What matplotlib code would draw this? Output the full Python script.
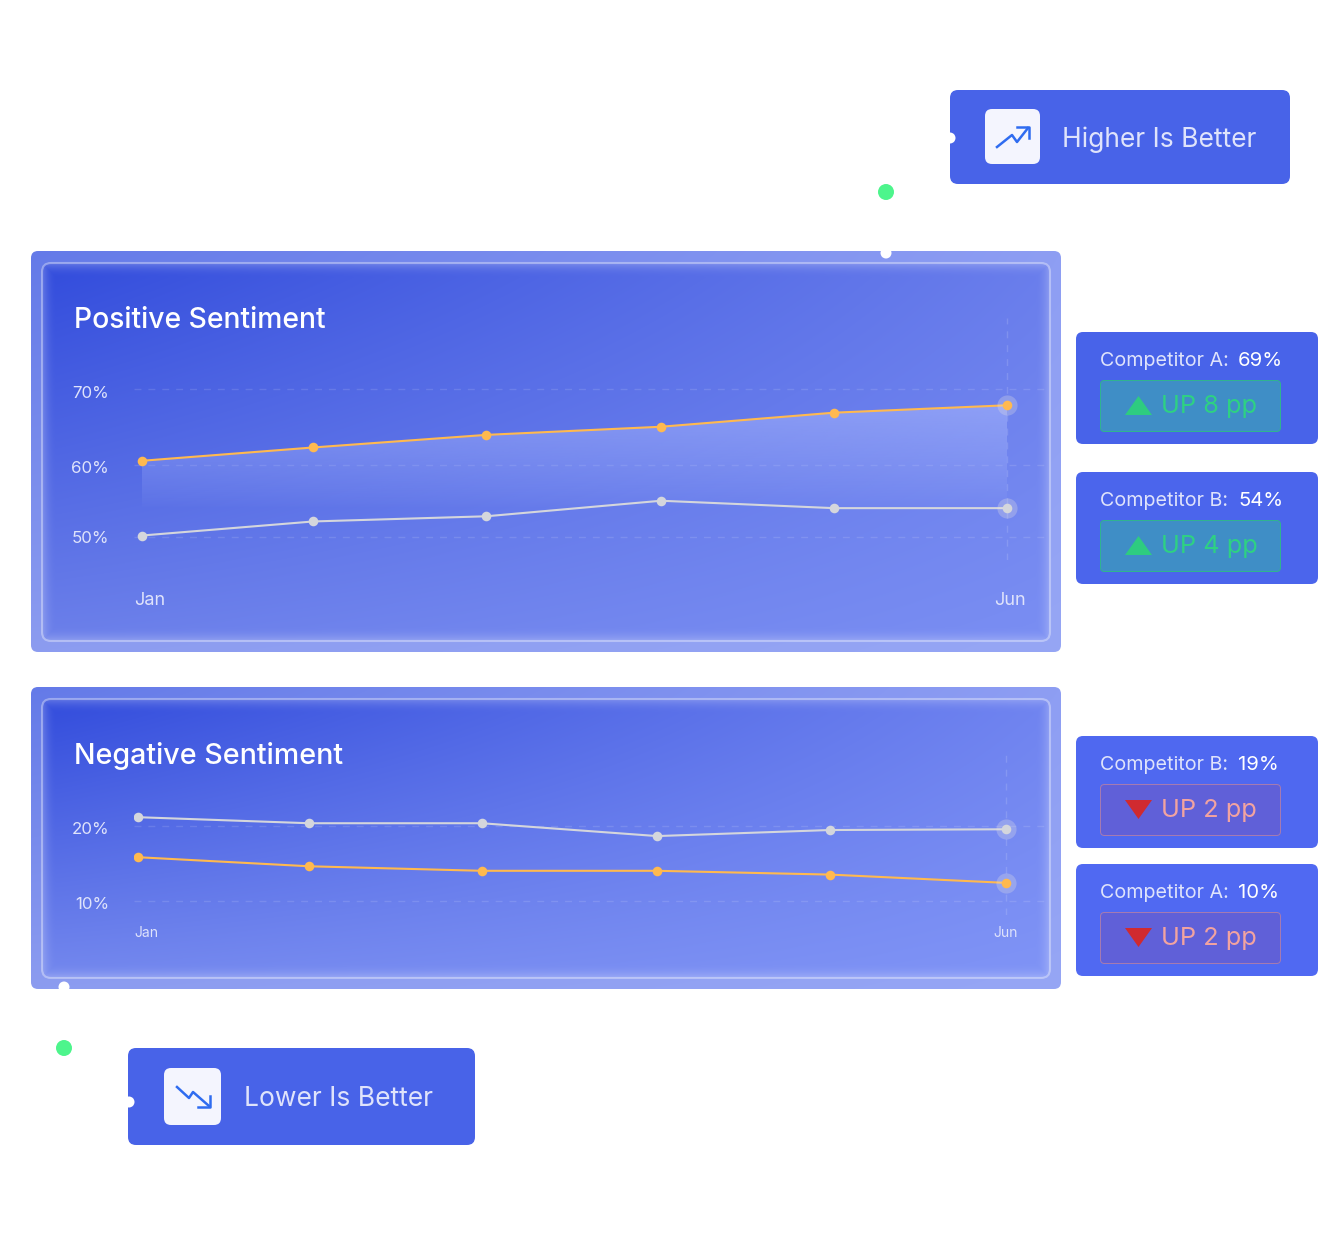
import numpy as np
import matplotlib
matplotlib.use('Agg')
import matplotlib.pyplot as plt
from matplotlib.patches import FancyBboxPatch, Circle, Polygon
from matplotlib.transforms import ScaledTranslation

plt.rcParams['font.family'] = ['Inter', 'DejaVu Sans']

W, H = 1318, 1260

# data
months = ['Jan', 'Feb', 'Mar', 'Apr', 'May', 'Jun']
pos_steps = [0, 0.99, 1.99, 3, 4, 5]
pos_orange = [60.3, 62.1, 63.8, 64.9, 66.8, 67.8]
pos_grey = [50.2, 52.1, 52.8, 54.9, 53.9, 53.9]
pos_ticks = [70, 59.7, 50]
pos_ticklabels = ['70%', '60%', '50%']

neg_steps = [0, 0.985, 1.98, 2.99, 3.985, 5]
neg_grey = [21.1, 20.3, 20.3, 18.6, 19.4, 19.5]
neg_orange = [15.8, 14.6, 14.0, 14.0, 13.5, 12.4]
neg_ticks = [20, 10]
neg_ticklabels = ['20%', '10%']

stat_names = ['Competitor A:', 'Competitor B:', 'Competitor B:', 'Competitor A:']
stat_values = ['69%', '54%', '19%', '10%']
stat_changes = ['UP 8 pp', 'UP 4 pp', 'UP 2 pp', 'UP 2 pp']

ORANGE = '#ffb94f'
GREY = '#d4d6dc'
TEXT_SOFT = '#dfe3fb'

fig = plt.figure(figsize=(W / 100, H / 100), dpi=100, facecolor='white')
page = fig.add_axes([0, 0, 1, 1])
page.set_axis_off()


def round_box(x0, y0, x1, y1, r, **kw):
    return FancyBboxPatch((x0 + r, y0 + r), x1 - x0 - 2 * r, y1 - y0 - 2 * r,
                          boxstyle='round,pad=%g,rounding_size=%g' % (r, r), **kw)


def panel(x0, y0, x1, y1, r, tl, tr, bl, br, glow=0, z=1):
    # bilinear corner gradient, lighter towards the edge when glow is set
    w, h = int(x1 - x0), int(y1 - y0)
    u, v = np.meshgrid(np.linspace(0, 1, w), np.linspace(0, 1, h))
    img = np.zeros((h, w, 3))
    for i in range(3):
        img[..., i] = (tl[i] * (1 - u) * (1 - v) + tr[i] * u * (1 - v)
                       + bl[i] * (1 - u) * v + br[i] * u * v) / 255
    if glow:
        xx, yy = np.meshgrid(np.arange(w), np.arange(h))
        d = np.minimum.reduce([xx, w - 1 - xx, yy, h - 1 - yy])
        a = np.clip(1 - d / glow, 0, 1) ** 2 * 0.22
        img = img * (1 - a[..., None]) + a[..., None]
    im = page.imshow(img, extent=(x0, x1, y1, y0), aspect='auto', zorder=z)
    clip = round_box(x0, y0, x1, y1, r, transform=page.transData, fc='none', ec='none')
    page.add_patch(clip)
    im.set_clip_path(clip)


def sentiment_panel(y0, y1, tl, tr, bl, br):
    panel(31, y0, 1061, y1, 7, (100, 122, 232), (142, 158, 243), (140, 156, 240), (150, 166, 245))
    panel(42, y0 + 12, 1050, y1 - 11, 9, tl, tr, bl, br, glow=14, z=2)
    page.add_patch(round_box(42, y0 + 12, 1050, y1 - 11, 9, fc='none', ec='#ffffff', alpha=0.35, lw=1.5, zorder=3))


def chart_axes(px_x0, px_x1, px_y0, px_y1, x_first, x_last, y_hi, px_hi, y_lo, px_lo):
    # axes sized in pixels, limits worked out so data lands where the picture has it
    ax = fig.add_axes([px_x0 / W, 1 - px_y1 / H, (px_x1 - px_x0) / W, (px_y1 - px_y0) / H])
    ax.patch.set_alpha(0)
    sx = (x_last - x_first) / 5
    ax.set_xlim((px_x0 - x_first) / sx, (px_x1 - x_first) / sx)
    sy = (px_lo - px_hi) / (y_hi - y_lo)
    ax.set_ylim(y_lo - (px_y1 - px_lo) / sy, y_hi + (px_hi - px_y0) / sy)
    for s in ax.spines.values():
        s.set_visible(False)
    return ax


def shift(label, dx, dy):
    label.set_transform(label.get_transform() + ScaledTranslation(dx / 100, -dy / 100, fig.dpi_scale_trans))


def style_axes(ax, ticks, ticklabels, x_fs, y_fs, x_pad, y_dy, x_dx):
    ax.set_yticks(ticks, ticklabels)
    ax.set_xticks([0, 5], ['Jan', 'Jun'])
    ax.tick_params(length=0)
    ax.tick_params(axis='y', labelsize=y_fs, labelcolor=TEXT_SOFT, pad=18)
    ax.tick_params(axis='x', labelsize=x_fs, labelcolor=TEXT_SOFT, pad=x_pad)
    ax.grid(axis='y', color='white', alpha=0.12, lw=1, ls=(0, (5, 5)))
    ax.set_axisbelow(True)
    ax.axvline(5, color='white', alpha=0.14, lw=1, ls=(0, (5, 5)), zorder=1)
    for lab, dy in zip(ax.get_yticklabels(), y_dy):
        shift(lab, 0, dy)
    for lab, dx in zip(ax.get_xticklabels(), x_dx):
        shift(lab, dx, 0)


def draw_series(ax, x, y, color):
    ax.plot(x, y, color=color, lw=1.5, zorder=4, solid_capstyle='round')
    ax.scatter(x, y, s=48, color=color, zorder=5, lw=0)
    ax.scatter(x[-1:], y[-1:], s=210, color='#e8e4e4', alpha=0.28, zorder=4, lw=0)


def stat_card(y0, color, name, value, change, up):
    x0, x1 = 1076, 1318
    page.add_patch(round_box(x0, y0, x1, y0 + 112, 7, fc=color, ec='none', zorder=2))
    page.text(1100, y0 + 29, name, color=TEXT_SOFT, fontsize=14.2, va='center', zorder=5)
    page.text(1238, y0 + 29, value, color='white', fontsize=14.6, va='center', zorder=5)
    if up:
        fc, ec, tc, tri = '#3f8ec6', '#30b58e', '#2ed183', '#2ecc80'
        pts = [(1125, y0 + 83), (1152, y0 + 83), (1138.5, y0 + 64)]
    else:
        fc, ec, tc, tri = '#6060d8', '#a87bb0', '#f2a3a0', '#d02a30'
        pts = [(1125, y0 + 64), (1152, y0 + 64), (1138.5, y0 + 83)]
    page.add_patch(round_box(1100.5, y0 + 48.5, 1280.5, y0 + 99.5, 4, fc=fc, ec=ec, lw=0.7, zorder=3))
    page.add_patch(Polygon(pts, closed=True, fc=tri, ec='none', zorder=4))
    page.text(1161, y0 + 75, change, color=tc, fontsize=18.2, va='center', zorder=5)


def flag(x0, y0, x1, y1, ibox, label, tx, trend, head):
    page.add_patch(round_box(x0, y0, x1, y1, 8, fc='#4863e8', ec='none', zorder=2))
    page.add_patch(round_box(*ibox, 7, fc='#f4f5fe', ec='none', zorder=3))
    page.plot(*zip(*trend), color='#2f6cf0', lw=1.8, zorder=4)
    page.plot(*zip(*head), color='#2f6cf0', lw=1.8, zorder=4)
    page.text(tx, (y0 + y1) / 2 + 3, label, color=TEXT_SOFT, fontsize=19, va='center', zorder=5)


# panels
sentiment_panel(251, 652, (50, 76, 220), (106, 126, 236), (108, 128, 234), (122, 142, 243))
sentiment_panel(687, 989, (50, 76, 220), (112, 132, 240), (116, 136, 238), (128, 148, 246))
page.text(74, 320, 'Positive Sentiment', color='white', fontsize=20.4, fontweight='medium', va='center', zorder=6)
page.text(74, 756, 'Negative Sentiment', color='white', fontsize=20.6, fontweight='medium', va='center', zorder=6)

# positive chart
ax1 = chart_axes(134, 1046, 318, 560, 142, 1007, 70, 389, 50, 537)
style_axes(ax1, pos_ticks, pos_ticklabels, 13, 12.2, 23, [3, 2, 0], [8, 3])
area = ax1.fill_between(pos_steps, pos_orange, 53.8, color='none', lw=0)
xa, xb = ax1.get_xlim()
ya, yb = ax1.get_ylim()
fade = np.zeros((100, 2, 4))
fade[..., :3] = np.array([165, 180, 252]) / 255
fade[..., 3] = np.linspace(0.52, 0, 100)[:, None] ** 0.8
im = ax1.imshow(fade, extent=(xa, xb, 53.8, 68), aspect='auto', zorder=2)
ax1.set_xlim(xa, xb)
ax1.set_ylim(ya, yb)
im.set_clip_path(area.get_paths()[0], transform=ax1.transData)
draw_series(ax1, pos_steps, pos_grey, GREY)
draw_series(ax1, pos_steps, pos_orange, ORANGE)

# negative chart
ax2 = chart_axes(134, 1046, 753, 915, 138, 1006, 20, 825.5, 10, 901)
style_axes(ax2, neg_ticks, neg_ticklabels, 10, 12.2, 8, [3, 2], [8, 0])
draw_series(ax2, neg_steps, neg_grey, GREY)
draw_series(ax2, neg_steps, neg_orange, ORANGE)

# side cards
stat_card(332, '#4863e9', stat_names[0], stat_values[0], stat_changes[0], True)
stat_card(472, '#4b65ec', stat_names[1], stat_values[1], stat_changes[1], True)
stat_card(736, '#4f68f0', stat_names[2], stat_values[2], stat_changes[2], False)
stat_card(864, '#5069f2', stat_names[3], stat_values[3], stat_changes[3], False)

# higher / lower flags
flag(950, 90, 1290, 184, (985, 109, 1040, 164), 'Higher Is Better', 1062,
     [(997, 147), (1012, 135), (1017, 142), (1028, 128)], [(1017, 127), (1029, 127), (1029, 138)])
flag(128, 1048, 475, 1145, (164, 1068, 221, 1125), 'Lower Is Better', 244,
     [(177, 1087), (189, 1098), (193, 1092), (209, 1106)], [(198, 1107), (209.5, 1107), (209.5, 1096)])

# connector dots
for cx, cy in [(950, 138), (886, 253), (64, 987), (129, 1102)]:
    page.add_patch(Circle((cx, cy), 5.5, fc='white', ec='none', zorder=8))
for cx, cy in [(886, 192), (64, 1048)]:
    page.add_patch(Circle((cx, cy), 8, fc='#4df58c', ec='none', zorder=8))

page.set_xlim(0, W)
page.set_ylim(H, 0)
fig.savefig('out.png', dpi=100)
